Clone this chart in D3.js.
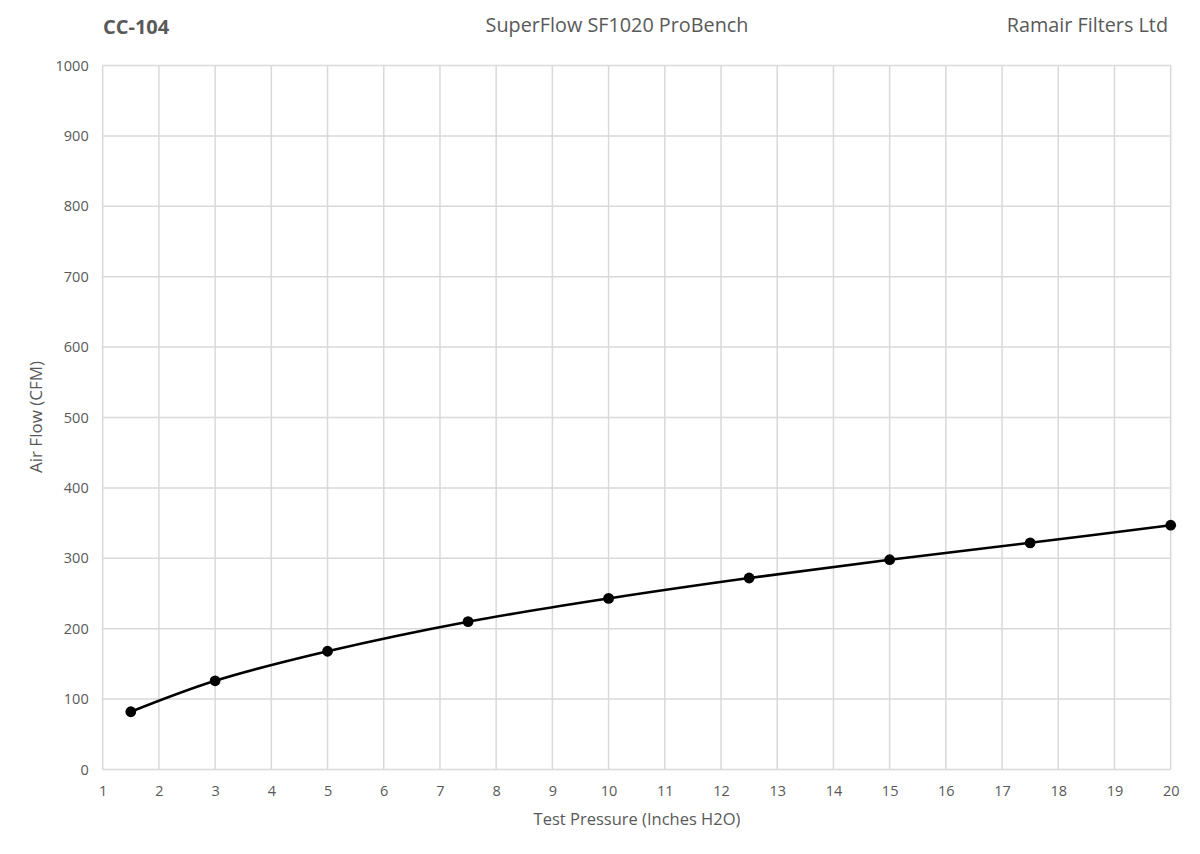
<!DOCTYPE html>
<html><head><meta charset="utf-8">
<script src="https://cdn.jsdelivr.net/npm/d3@7"></script>
<style>body{margin:0;background:#fff}svg{display:block}text{font-family:"Open Sans","Noto Sans",sans-serif;fill:#595959}</style>
</head><body><svg id="c" width="1200" height="854"></svg>
<script>
const pressure = [1.5, 3, 5, 7.5, 10, 12.5, 15, 17.5, 20];
const airflow = [82, 126, 168, 210, 243, 272, 298, 322, 347];
const xTicks = d3.range(1, 21);
const yTicks = d3.range(0, 1001, 100);
const titleLeft = "CC-104", titleCenter = "SuperFlow SF1020 ProBench", titleRight = "Ramair Filters Ltd";
const xLabel = "Test Pressure (Inches H2O)", yLabel = "Air Flow (CFM)";

const svg = d3.select("#c");
const L = 102.7, R = 1170.7, T = 65.5, B = 769.5;
const x = d3.scaleLinear().domain([1, 20]).range([L, R]);
const y = d3.scaleLinear().domain([0, 1000]).range([B, T]);

const g = svg.append("g");
g.selectAll(".vx").data(xTicks).join("line")
  .attr("x1", d => x(d)).attr("x2", d => x(d)).attr("y1", T).attr("y2", B)
  .attr("stroke", "#d9d9d9").attr("stroke-width", 1.5);
g.selectAll(".hy").data(yTicks).join("line")
  .attr("x1", L).attr("x2", R).attr("y1", d => y(d)).attr("y2", d => y(d))
  .attr("stroke", "#d9d9d9").attr("stroke-width", 1.5);

const xa = svg.append("g").attr("transform", `translate(0,${B})`)
  .call(d3.axisBottom(x).tickValues(xTicks).tickSize(0).tickPadding(16).tickFormat(d3.format("d")));
const ya = svg.append("g").attr("transform", `translate(${L},0)`)
  .call(d3.axisLeft(y).tickValues(yTicks).tickSize(0).tickPadding(14).tickFormat(d3.format("d")));
[xa, ya].forEach(a => { a.select(".domain").remove(); a.selectAll("text").attr("font-size", 14.5).attr("fill", "#595959").attr("font-family", '"Open Sans",sans-serif'); });

const data = pressure.map((p, i) => [p, airflow[i]]);
svg.append("path").datum(data)
  .attr("d", d3.line().x(d => x(d[0])).y(d => y(d[1])).curve(d3.curveCatmullRom.alpha(0.5)))
  .attr("fill", "none").attr("stroke", "#000").attr("stroke-width", 2.6);
svg.selectAll(".pt").data(data).join("circle")
  .attr("cx", d => x(d[0])).attr("cy", d => y(d[1])).attr("r", 5.4).attr("fill", "#000");

svg.append("text").attr("x", 103).attr("y", 34).attr("font-size", 20).attr("font-weight", "bold").text(titleLeft);
svg.append("text").attr("x", 617).attr("y", 32).attr("text-anchor", "middle").attr("font-size", 19.8).text(titleCenter);
svg.append("text").attr("x", 1168).attr("y", 32).attr("text-anchor", "end").attr("font-size", 19.8).text(titleRight);
svg.append("text").attr("x", 637).attr("y", 825).attr("text-anchor", "middle").attr("font-size", 16.5).text(xLabel);
svg.append("text").attr("transform", "translate(42,417) rotate(-90)").attr("text-anchor", "middle").attr("font-size", 17).text(yLabel);
</script></body></html>
